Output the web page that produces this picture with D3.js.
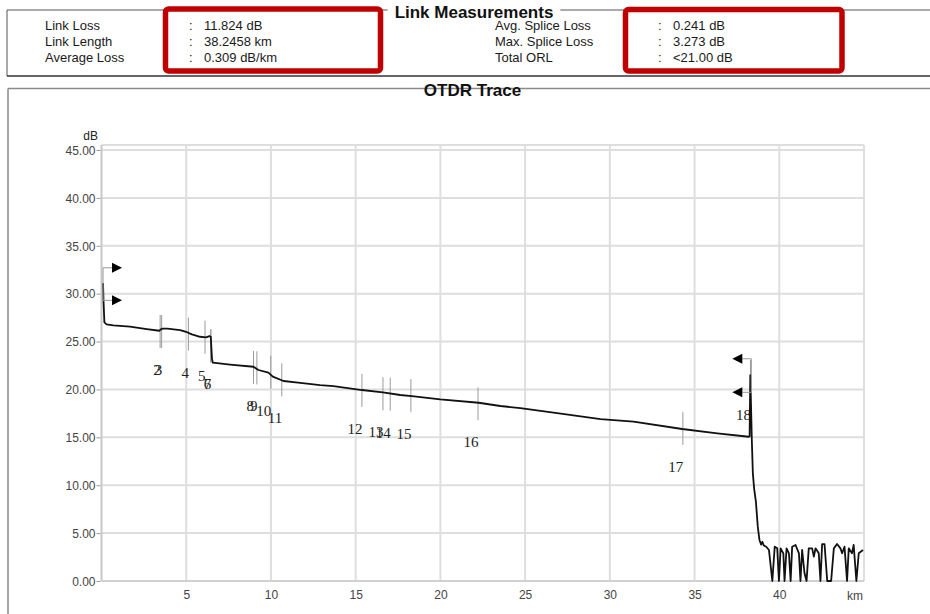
<!DOCTYPE html>
<html lang="en">
<head>
  <meta charset="UTF-8" />
  <title>OTDR Trace</title>
  <script src="https://d3js.org/d3.v7.min.js"></script>
  <style>
    body { margin: 0; background: #fff; }
    svg { display: block; }
  </style>
</head>
<body>
  <svg id="chart" width="930" height="614"></svg>

  <script>
    // summary table
    const leftNames = ["Link Loss", "Link Length", "Average Loss"];
    const leftValues = ["11.824 dB", "38.2458 km", "0.309 dB/km"];
    const rightNames = ["Avg. Splice Loss", "Max. Splice Loss", "Total ORL"];
    const rightValues = ["0.241 dB", "3.273 dB", "<21.00 dB"];

    // ticks
    const dbTicks = [0, 5, 10, 15, 20, 25, 30, 35, 40, 45];
    const kmTicks = [5, 10, 15, 20, 25, 30, 35, 40];

    // trace (km, dB)
    const traceKm = [0.09, 0.12, 0.17, 0.3, 0.7, 1.68, 2.67, 3.42, 3.5, 3.61, 3.89, 4.64, 4.99,
      5.33, 5.82, 6.17, 6.37, 6.45, 6.52, 6.57, 7.59, 8.97, 9.26, 9.85, 10.11, 10.74, 11.6,
      12.9, 13.69, 15.37, 16.61, 17.63, 18.32, 19.99, 22.26, 23.54, 24.72, 27.0, 29.45, 31.4,
      34.27, 36.34, 38.2, 38.25, 38.29, 38.33, 38.38, 38.44, 38.52, 38.62, 38.73, 38.83, 38.93,
      39.0, 39.09, 39.23, 39.39, 39.59, 39.73, 39.88, 39.98, 40.08, 40.24, 40.31, 40.43, 40.57,
      40.67, 40.76, 40.96, 41.16, 41.25, 41.35, 41.49, 41.61, 41.74, 41.94, 42.04, 42.14, 42.33,
      42.43, 42.53, 42.67, 42.83, 43.06, 43.22, 43.41, 43.61, 43.71, 43.85, 44.0, 44.1, 44.29,
      44.39, 44.55, 44.69, 44.94];
    const traceDb = [31.1, 29.2, 27.0, 26.8, 26.69, 26.55, 26.3, 26.13, 26.28, 26.34, 26.34, 26.2, 26.02,
      25.75, 25.5, 25.44, 25.57, 25.5, 23.2, 22.79, 22.6, 22.37, 22.03, 21.75, 21.33, 20.88, 20.72,
      20.45, 20.35, 19.94, 19.7, 19.42, 19.31, 18.96, 18.61, 18.27, 18.06, 17.5, 16.91, 16.63,
      15.87, 15.41, 15.06, 15.1, 21.5, 18.5, 14.7, 11.24, 9.6, 8.3, 5.7, 4.28, 3.8,
      4.1, 3.7, 3.58, 3.24, 0, 3.58, 3.41, 0, 3.41, 2.89, 0, 3.41, 2.89,
      0, 3.58, 3.76, 2.89, 0, 3.24, 0.8, 0, 3.41, 3.41, 2.54, 3.41, 2.89,
      0, 3.86, 3.86, 0, 0, 3.41, 3.86, 3.41, 2.89, 3.58, 0, 3.41, 2.89,
      3.76, 0, 2.89, 3.24];

    // events
    const eventIds = ["2", "3", "4", "5", "6", "7", "8", "9", "10", "11", "12", "13", "14", "15", "16", "17", "18"];
    const eventKm = [3.46, 3.55, 5.13, 6.11, 6.45, 6.45, 8.97, 9.17, 9.99, 10.64, 15.37, 16.61, 17.04, 18.26, 22.22, 34.31, 38.3];
    const eventDb = [26.05, 26.05, 25.78, 25.45, 24.55, 24.55, 22.3, 22.25, 21.8, 21.0, 19.9, 19.55, 19.5, 19.35, 18.5, 15.94, 21.35];

    // cursor flags
    const cursorKm = [0.09, 38.35];
    const cursorDir = ["right", "left"];
    const cursorDb = [[32.7, 29.3], [23.2, 19.7]];

    const sans = "'Liberation Sans', Arial, sans-serif";
    const serif = "'Liberation Serif', 'Times New Roman', serif";

    const svg = d3.select("#chart");

    // ---- Link Measurements block ----
    svg.append("line").attr("x1", 7).attr("x2", 930).attr("y1", 10).attr("y2", 10)
      .attr("stroke", "#555").attr("stroke-width", 1);
    svg.append("line").attr("x1", 7).attr("x2", 7).attr("y1", 10).attr("y2", 76)
      .attr("stroke", "#555").attr("stroke-width", 1);
    svg.append("line").attr("x1", 7).attr("x2", 930).attr("y1", 76).attr("y2", 76)
      .attr("stroke", "#333").attr("stroke-width", 1.5);

    const t1 = svg.append("text").attr("x", 474).attr("y", 18)
      .attr("text-anchor", "middle").attr("font-family", sans).attr("font-size", 17)
      .attr("font-weight", "bold").attr("fill", "#111").text("Link Measurements");
    const b1 = t1.node().getBBox();
    svg.insert("rect", "text").attr("x", b1.x - 7).attr("y", 2).attr("width", b1.width + 14)
      .attr("height", 14).attr("fill", "#fff");

    const rowY = [29.5, 45.5, 61.5];
    const rows = svg.append("g").attr("font-family", sans).attr("font-size", 13).attr("fill", "#1a1a1a");
    leftNames.forEach((n, i) => {
      rows.append("text").attr("x", 45).attr("y", rowY[i]).text(n);
      rows.append("text").attr("x", 189).attr("y", rowY[i]).text(":");
      rows.append("text").attr("x", 204).attr("y", rowY[i]).text(leftValues[i]);
    });
    rightNames.forEach((n, i) => {
      rows.append("text").attr("x", 495).attr("y", rowY[i]).text(n);
      rows.append("text").attr("x", 658).attr("y", rowY[i]).text(":");
      rows.append("text").attr("x", 673).attr("y", rowY[i]).text(rightValues[i]);
    });

    // red highlight boxes
    svg.append("rect").attr("x", 165.5).attr("y", 9).attr("width", 215).attr("height", 62)
      .attr("rx", 3).attr("fill", "none").attr("stroke", "#c00000").attr("stroke-width", 5.5);
    svg.append("rect").attr("x", 625.5).attr("y", 9.5).attr("width", 216.5).attr("height", 61.5)
      .attr("rx", 3).attr("fill", "none").attr("stroke", "#c00000").attr("stroke-width", 5.5);

    // ---- OTDR Trace block ----
    svg.append("line").attr("x1", 8).attr("x2", 930).attr("y1", 88.5).attr("y2", 88.5)
      .attr("stroke", "#8a8a8a").attr("stroke-width", 1.5);
    svg.append("line").attr("x1", 8).attr("x2", 8).attr("y1", 88.5).attr("y2", 614)
      .attr("stroke", "#8a8a8a").attr("stroke-width", 1.5);
    const t2 = svg.append("text").attr("x", 472.5).attr("y", 96)
      .attr("text-anchor", "middle").attr("font-family", sans).attr("font-size", 17)
      .attr("font-weight", "bold").attr("fill", "#111").text("OTDR Trace");
    const b2 = t2.node().getBBox();
    svg.insert("rect", "text").attr("x", b2.x - 11).attr("y", 82).attr("width", b2.width + 22)
      .attr("height", 12).attr("fill", "#fff");

    // ---- plot ----
    const x = d3.scaleLinear().domain([0, 45]).range([101.5, 864]);
    const y = d3.scaleLinear().domain([0, 45]).range([581, 150]);
    const plotTop = 145;

    const grid = svg.append("g").attr("stroke", "#dedede").attr("stroke-width", 2);
    grid.selectAll("line.h").data(dbTicks.filter(d => d > 0)).join("line")
      .attr("x1", x(0)).attr("x2", x(45)).attr("y1", d => y(d)).attr("y2", d => y(d));
    grid.selectAll("line.v").data(kmTicks).join("line")
      .attr("x1", d => x(d)).attr("x2", d => x(d)).attr("y1", plotTop).attr("y2", y(0));
    // frame
    grid.append("line").attr("x1", x(0)).attr("x2", x(45)).attr("y1", plotTop).attr("y2", plotTop);
    grid.append("line").attr("x1", x(45)).attr("x2", x(45)).attr("y1", plotTop).attr("y2", y(0));
    grid.append("line").attr("x1", x(0)).attr("x2", x(0)).attr("y1", plotTop).attr("y2", y(0))
      .attr("stroke", "#c8c8c8");
    grid.append("line").attr("x1", x(0)).attr("x2", x(45)).attr("y1", y(0)).attr("y2", y(0))
      .attr("stroke", "#d0d0d0");

    const yAxis = svg.append("g").attr("transform", `translate(${x(0) - 1},0)`)
      .call(d3.axisLeft(y).tickValues(dbTicks).tickFormat(d3.format(".2f")).tickSize(4).tickPadding(1));
    yAxis.select(".domain").remove();
    yAxis.selectAll("line").attr("stroke", "#999");
    yAxis.selectAll("text").attr("font-family", sans).attr("font-size", 12).attr("fill", "#444")
      .attr("dy", "0.36em");

    const xAxis = svg.append("g").attr("transform", `translate(0,${y(0)})`)
      .call(d3.axisBottom(x).tickValues(kmTicks).tickSize(0).tickPadding(9));
    xAxis.select(".domain").remove();
    xAxis.selectAll("text").attr("font-family", sans).attr("font-size", 12).attr("fill", "#444");

    svg.append("text").attr("x", x(45) - 9).attr("y", y(0) + 18.5).attr("text-anchor", "middle")
      .attr("font-family", sans).attr("font-size", 12).attr("fill", "#444").text("km");
    svg.append("text").attr("x", 98).attr("y", 139.5).attr("text-anchor", "end")
      .attr("font-family", sans).attr("font-size", 12).attr("fill", "#222").text("dB");

    // event markers and labels
    const half = 16.5;
    const ev = svg.append("g");
    ev.selectAll("line").data(eventIds).join("line")
      .attr("x1", (d, i) => x(eventKm[i])).attr("x2", (d, i) => x(eventKm[i]))
      .attr("y1", (d, i) => y(eventDb[i]) - half).attr("y2", (d, i) => y(eventDb[i]) + half)
      .attr("stroke", "#9a9a9a").attr("stroke-width", 1);
    ev.selectAll("text").data(eventIds).join("text")
      .attr("x", (d, i) => x(eventKm[i]) + 0.5)
      .attr("y", (d, i) => y(eventDb[i]) + half + 27)
      .attr("text-anchor", "end").attr("font-family", serif).attr("font-size", 15)
      .attr("fill", "#222").text(d => d);

    // trace
    const trace = traceKm.map((k, i) => [k, traceDb[i]]);
    svg.append("path").datum(trace)
      .attr("d", d3.line().x(d => x(d[0])).y(d => y(d[1])))
      .attr("fill", "none").attr("stroke", "#111").attr("stroke-width", 1.8)
      .attr("stroke-linejoin", "round");

    // cursor flags
    const fl = svg.append("g");
    cursorKm.forEach((k, i) => {
      const cx = x(k);
      const s = cursorDir[i] === "right" ? 1 : -1;
      const lv = cursorDb[i];
      fl.append("line").attr("x1", cx).attr("x2", cx).attr("y1", y(lv[0])).attr("y2", y(lv[1]))
        .attr("stroke", "#999").attr("stroke-width", 1);
      lv.forEach(v => {
        const cy = y(v);
        fl.append("line").attr("x1", cx).attr("x2", cx + s * 9).attr("y1", cy).attr("y2", cy)
          .attr("stroke", "#999").attr("stroke-width", 1);
        fl.append("path")
          .attr("d", `M${cx + s * 9},${cy - 5}L${cx + s * 19},${cy}L${cx + s * 9},${cy + 5}Z`)
          .attr("fill", "#000");
      });
    });
  </script>
</body>
</html>
